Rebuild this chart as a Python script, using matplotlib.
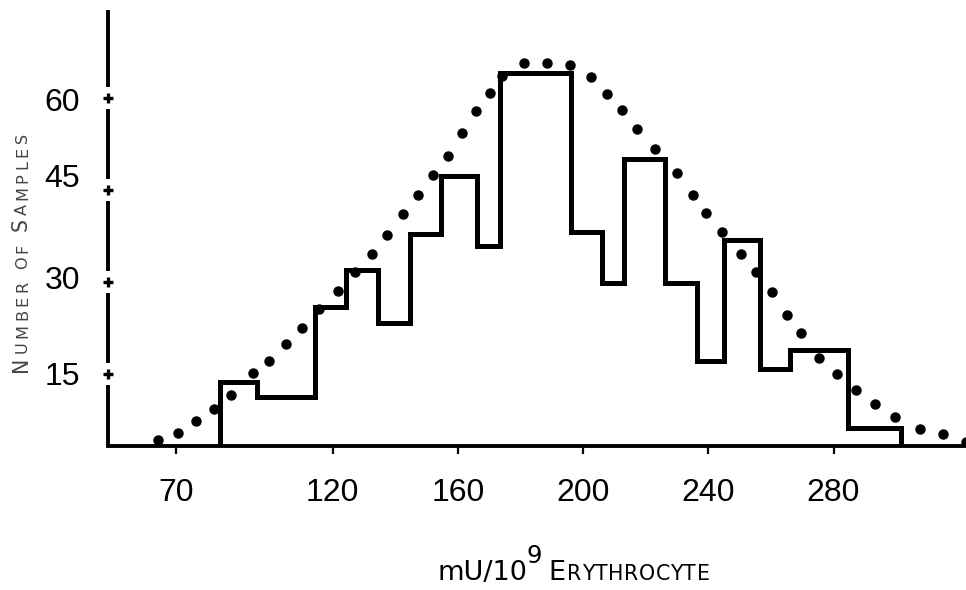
import matplotlib
matplotlib.use("Agg")
import matplotlib.pyplot as plt
from matplotlib import font_manager

W, H = 966, 590

# histogram outline: bin edges (mU/10^9 erythrocyte) and number of samples
bin_edges = [84.1, 95.8, 114.4, 124.3, 134.5, 144.8, 154.6, 166.1, 173.5,
             196.1, 206.0, 213.1, 226.2, 236.3, 245.0, 256.5, 266.1, 284.5, 301.7]
counts = [13.8, 11.2, 26.0, 32.0, 23.4, 37.8, 47.3, 35.8, 64.0,
          38.1, 29.8, 50.0, 29.8, 17.1, 36.9, 15.8, 19.0, 6.3]

# dotted normal curve
fit_x = [64.4, 70.5, 76.4, 82.0, 87.6, 94.6, 99.8, 105.0, 110.3, 115.7,
         121.9, 127.2, 132.5, 137.5, 142.4, 147.4, 152.2, 157.0, 161.3, 165.8,
         170.3, 174.1, 181.2, 188.4, 195.7, 202.6, 207.8, 212.4, 217.1, 223.0,
         229.9, 235.0, 239.3, 244.3, 250.4, 255.1, 260.3, 265.0, 269.5, 275.5,
         281.0, 287.2, 293.2, 299.6, 307.6, 315.0, 322.3]
fit_y = [4.2, 5.4, 7.3, 9.3, 11.6, 15.2, 17.2, 19.9, 22.5, 25.6,
         28.6, 31.7, 34.6, 37.6, 41.0, 44.1, 47.5, 50.6, 54.3, 57.8,
         60.8, 63.6, 65.6, 65.7, 65.3, 63.4, 60.6, 58.0, 54.9, 51.7,
         47.8, 44.2, 41.3, 38.2, 34.6, 31.6, 28.3, 24.7, 21.7, 17.6,
         15.0, 12.5, 10.2, 8.1, 6.1, 5.3, 4.0]

x_ticks = [70, 120, 160, 200, 240, 280]
y_ticks = [15, 30, 45, 60]
y_tick_labels = ["15", "30", "45", "60"]

# small caps labels: (text, size, raise, spacing between letters)
ylab_runs = [("N", 14.8, 0, 3.5), ("UMBER", 11.6, 0, 3.5), (" ", 11.6, 0, 3.5),
             ("OF", 11.6, 0, 3.5), (" ", 11.6, 0, 3.5),
             ("S", 14.8, 0, 3.5), ("AMPLES", 11.6, 0, 3.5)]
xlab_runs = [("mU/10", 19.5, 0, None), ("9", 17.5, 17, 0), (" ", 14, 0, 0),
             ("E", 19.5, 0, 1.0), ("RYTHROCYTE", 14.8, 0, 0.6)]

# narrow face for the numbers, whichever is installed
installed = {f.name for f in font_manager.fontManager.ttflist}
tick_font = [f for f in ["Liberation Sans Narrow", "DejaVu Sans Condensed",
                         "Liberation Sans"] if f in installed] or ["DejaVu Sans"]


def text_width(fig, s, size):
    r = fig.canvas.get_renderer()
    if s == " ":
        return 0.32 * size * fig.dpi / 72
    t = fig.text(0, 0, s, fontsize=size)
    w = t.get_window_extent(r).width
    t.remove()
    return w


def put_runs(fig, x, y, runs, rotation=0, color="black"):
    # writes the runs one after another from pixel (x, y) (y from the top);
    # a run with spacing None is written in one piece
    pos = 0.0
    for s, size, dy, track in runs:
        pieces = [s] if track is None else list(s)
        for ch in pieces:
            w = text_width(fig, ch, size)
            if ch != " ":
                if rotation:
                    fig.text(x / W, 1 - (y - pos) / H, ch, fontsize=size, color=color,
                             rotation=90, rotation_mode="anchor",
                             ha="left", va="baseline")
                else:
                    fig.text((x + pos) / W, 1 - (y - dy) / H, ch, fontsize=size,
                             color=color, ha="left", va="baseline")
            pos += w + (track or 0)


def main():
    fig = plt.figure(figsize=(W / 100, H / 100), dpi=100)
    ax = fig.add_axes([108 / W, 1 - 446 / H, (W - 108) / W, 436 / H])
    ax.set_xlim(48.3, 322.3)
    ax.set_ylim(3.3, 74.3)

    ax.stairs(counts, bin_edges, baseline=3.3, color="black", linewidth=3.6,
              joinstyle="miter")
    ax.plot(fit_x, fit_y, linestyle="none", marker="o", markersize=6.5,
            color="black")

    for side in ["top", "right", "left"]:
        ax.spines[side].set_visible(False)
    ax.spines["bottom"].set_linewidth(2.8)

    ax.set_xticks(x_ticks)
    ax.set_xticklabels([str(v) for v in x_ticks], family=tick_font, fontsize=23)
    ax.tick_params(axis="x", length=6, width=1.6, pad=17)
    ax.set_yticks([])

    # broken y axis line with a cross at each tick
    yaxis = ax.get_yaxis_transform()
    stops = [3.3] + y_ticks + [74.3]
    for lo, hi in zip(stops[:-1], stops[1:]):
        a = lo + 1.8 if lo in y_ticks else lo
        b = hi - 1.8 if hi in y_ticks else hi
        ax.plot([0, 0], [a, b], transform=yaxis, color="black", linewidth=2.8,
                solid_capstyle="butt", clip_on=False)
    ax.plot([0] * len(y_ticks), y_ticks, transform=yaxis, linestyle="none",
            marker="+", markersize=7, markeredgewidth=2.4, color="black",
            clip_on=False)

    label_dy = [11, 7, -3, 13]
    for v, lab, dy in zip(y_ticks, y_tick_labels, label_dy):
        ax.annotate(lab, xy=(0, v), xycoords=yaxis, xytext=(-28, -dy),
                    textcoords="offset pixels", ha="right", va="baseline",
                    fontsize=23, family=tick_font)

    put_runs(fig, 27, 372, ylab_runs, rotation=90, color="#444444")
    put_runs(fig, 437, 580, xlab_runs)

    fig.savefig("out.png", dpi=100)


if __name__ == "__main__":
    main()
